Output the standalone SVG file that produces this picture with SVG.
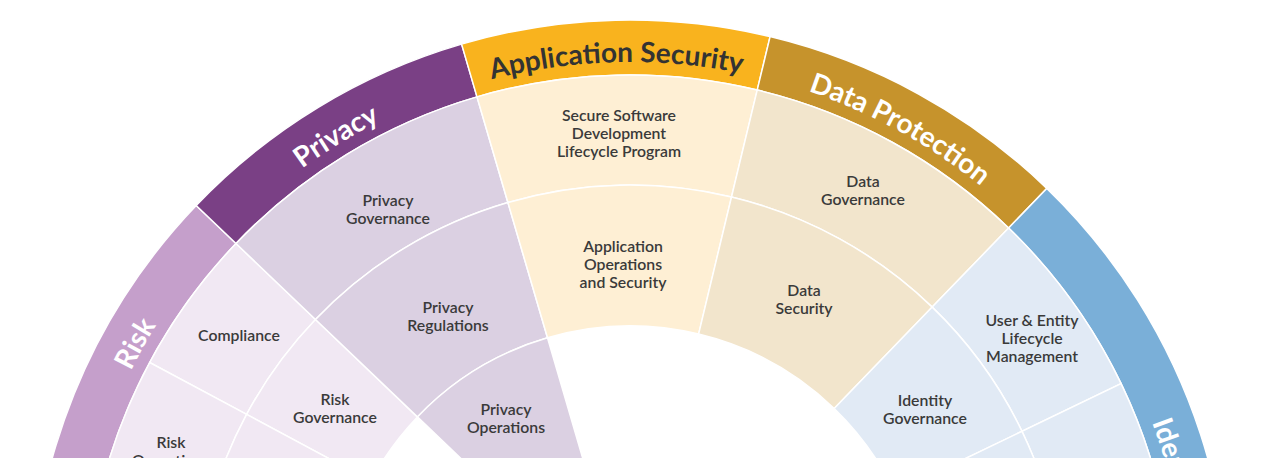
<svg xmlns="http://www.w3.org/2000/svg" width="1280" height="458" viewBox="0 0 1280 458">
<defs>
<style>
.cell{stroke:#ffffff;stroke-width:1.5}
.band{stroke:#ffffff;stroke-width:1.5}
.t{font-family:Lato,"Open Sans","Liberation Sans",sans-serif;font-weight:600;font-size:15.8px;fill:#3a3a3a;text-anchor:middle}
.lbl{font-family:Lato,"Open Sans","Liberation Sans",sans-serif;font-weight:700;font-size:28px;text-anchor:middle}
.risk-b{fill:#c59fcb}.risk-c{fill:#f1e8f3}
.priv-b{fill:#7a4085}.priv-c{fill:#dbd0e2}
.app-b{fill:#f9b31e}.app-c{fill:#feefd4}
.data-b{fill:#c6932c}.data-c{fill:#f2e5cc}
.id-b{fill:#7aafd8}.id-c{fill:#e1eaf5}
</style>
<path id="arc-risk" d="M81.9,724.6 A558,558 0 0 1 431.9,98.4"/>
<path id="arc-priv" d="M101.5,441.1 A558,558 0 0 1 714.4,68.4"/>
<path id="arc-app" d="M261.0,201.4 A558,558 0 0 1 978.1,183.9"/>
<path id="arc-data" d="M521.6,72.6 A558,558 0 0 1 1150.2,418.2"/>
<path id="arc-id" d="M944.4,159.0 A558,558 0 0 1 1138.6,849.6"/>
</defs>
<rect width="1280" height="458" fill="#ffffff"/>

<g id="risk">
<path class="band risk-b" d="M39.1,724.2 A600,600 0 0 1 196.2,205.5 L236.0,243.5 A545,545 0 0 0 93.3,714.6 Z"/>
<text class="lbl" fill="#ffffff"><textPath href="#arc-risk" startOffset="50%">Risk</textPath></text>
<g id="risk-compliance">
<path class="cell risk-c" d="M149.7,362.5 A545,545 0 0 1 236.0,243.5 L315.5,319.5 A435,435 0 0 0 246.6,414.4 Z"/>
<text class="t" x="239" y="341">Compliance</text>
</g>
<g id="risk-operations">
<path class="cell risk-c" d="M93.3,714.6 A545,545 0 0 1 149.7,362.5 L246.6,414.4 A435,435 0 0 0 201.6,695.5 Z"/>
<text class="t" x="171" y="448"><tspan x="171">Risk</tspan><tspan x="171" dy="18">Operations</tspan></text>
</g>
<g id="risk-governance">
<path class="cell risk-c" d="M246.6,414.4 A435,435 0 0 1 315.5,319.5 L417.4,416.9 A294,294 0 0 0 370.9,481.1 Z"/>
<text class="t" x="335" y="405"><tspan x="335">Risk</tspan><tspan x="335" dy="18">Governance</tspan></text>
</g>
<g id="risk-inner-lower">
<path class="cell risk-c" d="M201.6,695.5 A435,435 0 0 1 246.6,414.4 L370.9,481.1 A294,294 0 0 0 340.5,671.0 Z"/>
</g>
</g>

<g id="privacy">
<path class="band priv-b" d="M196.2,205.5 A600,600 0 0 1 461.6,44.1 L477.0,96.9 A545,545 0 0 0 236.0,243.5 Z"/>
<text class="lbl" fill="#ffffff"><textPath href="#arc-priv" startOffset="50%">Privacy</textPath></text>
<g id="privacy-governance">
<path class="cell priv-c" d="M236.0,243.5 A545,545 0 0 1 477.0,96.9 L507.9,202.5 A435,435 0 0 0 315.5,319.5 Z"/>
<text class="t" x="388" y="206"><tspan x="388">Privacy</tspan><tspan x="388" dy="18">Governance</tspan></text>
</g>
<g id="privacy-regulations">
<path class="cell priv-c" d="M315.5,319.5 A435,435 0 0 1 507.9,202.5 L547.5,337.8 A294,294 0 0 0 417.4,416.9 Z"/>
<text class="t" x="448" y="313"><tspan x="448">Privacy</tspan><tspan x="448" dy="18">Regulations</tspan></text>
</g>
<g id="privacy-operations">
<path class="cell priv-c" d="M417.4,416.9 A294,294 0 0 1 547.5,337.8 L587.9,476.0 A150,150 0 0 0 521.5,516.4 Z"/>
<text class="t" x="506" y="414.5"><tspan x="506">Privacy</tspan><tspan x="506" dy="18">Operations</tspan></text>
</g>
</g>

<g id="application-security">
<path class="band app-b" d="M461.6,44.1 A600,600 0 0 1 770.1,36.6 L757.2,90.1 A545,545 0 0 0 477.0,96.9 Z"/>
<text class="lbl" fill="#333333"><textPath href="#arc-app" startOffset="50%">Application Security</textPath></text>
<g id="secure-sdlc">
<path class="cell app-c" d="M477.0,96.9 A545,545 0 0 1 757.2,90.1 L731.5,197.0 A435,435 0 0 0 507.9,202.5 Z"/>
<text class="t" x="619" y="121"><tspan x="619">Secure Software</tspan><tspan x="619" dy="18">Development</tspan><tspan x="619" dy="18">Lifecycle Program</tspan></text>
</g>
<g id="app-operations">
<path class="cell app-c" d="M507.9,202.5 A435,435 0 0 1 731.5,197.0 L698.6,334.1 A294,294 0 0 0 547.5,337.8 Z"/>
<text class="t" x="623" y="252"><tspan x="623">Application</tspan><tspan x="623" dy="18">Operations</tspan><tspan x="623" dy="18">and Security</tspan></text>
</g>
</g>

<g id="data-protection">
<path class="band data-b" d="M770.1,36.6 A600,600 0 0 1 1046.8,188.4 L1008.6,228.0 A545,545 0 0 0 757.2,90.1 Z"/>
<text class="lbl" fill="#ffffff"><textPath href="#arc-data" startOffset="50%">Data Protection</textPath></text>
<g id="data-governance">
<path class="cell data-c" d="M757.2,90.1 A545,545 0 0 1 1008.6,228.0 L932.2,307.1 A435,435 0 0 0 731.5,197.0 Z"/>
<text class="t" x="863" y="186.5"><tspan x="863">Data</tspan><tspan x="863" dy="18">Governance</tspan></text>
</g>
<g id="data-security">
<path class="cell data-c" d="M731.5,197.0 A435,435 0 0 1 932.2,307.1 L834.2,408.5 A294,294 0 0 0 698.6,334.1 Z"/>
<text class="t" x="804" y="296"><tspan x="804">Data</tspan><tspan x="804" dy="18">Security</tspan></text>
</g>
</g>

<g id="identity">
<path class="band id-b" d="M1046.8,188.4 A600,600 0 0 1 1220.9,724.2 L1166.7,714.6 A545,545 0 0 0 1008.6,228.0 Z"/>
<text class="lbl" fill="#ffffff"><textPath href="#arc-id" startOffset="50%">Identity</textPath></text>
<g id="user-entity-lifecycle">
<path class="cell id-c" d="M1008.6,228.0 A545,545 0 0 1 1121.1,383.6 L1022.0,431.3 A435,435 0 0 0 932.2,307.1 Z"/>
<text class="t" x="1032" y="326"><tspan x="1032">User &amp; Entity</tspan><tspan x="1032" dy="18">Lifecycle</tspan><tspan x="1032" dy="18">Management</tspan></text>
</g>
<g id="identity-outer-lower">
<path class="cell id-c" d="M1121.1,383.6 A545,545 0 0 1 1166.7,714.6 L1058.4,695.5 A435,435 0 0 0 1022.0,431.3 Z"/>
</g>
<g id="identity-governance">
<path class="cell id-c" d="M932.2,307.1 A435,435 0 0 1 1022.0,431.3 L894.9,492.5 A294,294 0 0 0 834.2,408.5 Z"/>
<text class="t" x="925" y="406"><tspan x="925">Identity</tspan><tspan x="925" dy="18">Governance</tspan></text>
</g>
<g id="identity-inner-lower">
<path class="cell id-c" d="M1022.0,431.3 A435,435 0 0 1 1058.4,695.5 L919.5,671.0 A294,294 0 0 0 894.9,492.5 Z"/>
</g>
</g>

<g id="connectors"></g>
</svg>
